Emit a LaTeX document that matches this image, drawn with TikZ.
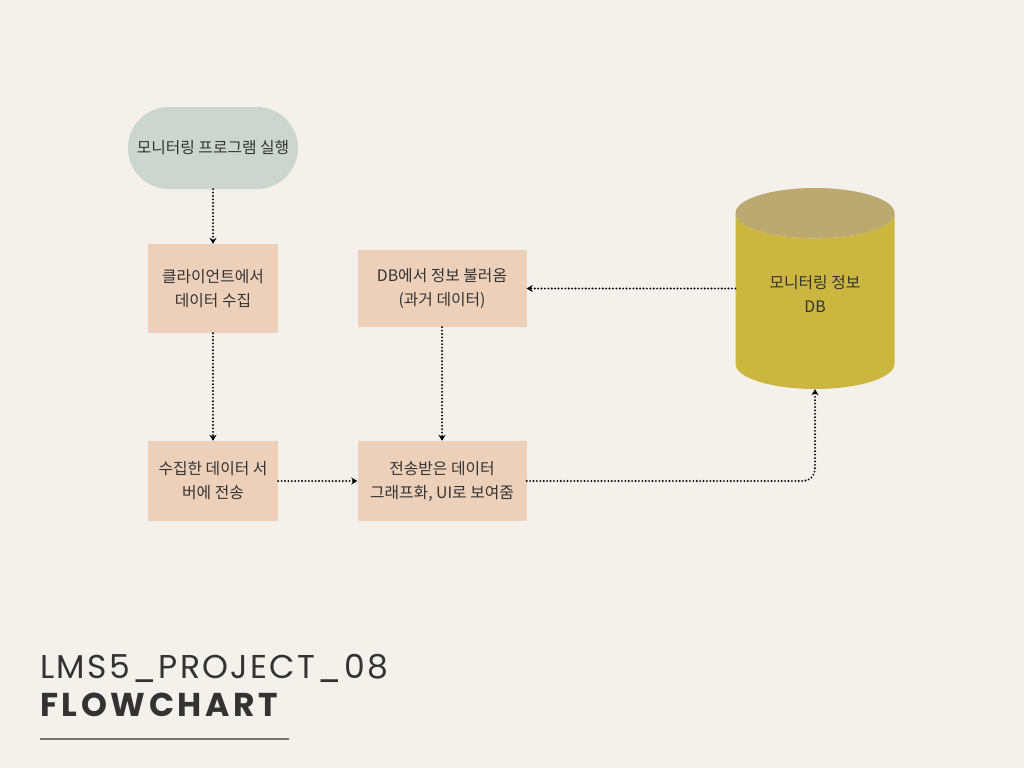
\documentclass[tikz,border=0pt]{standalone}
\usepackage{fontspec}
\usepackage{tikz}
\usetikzlibrary{shapes.geometric,arrows.meta}
\newfontfamily\kofont{Noto Sans CJK KR}
\newfontfamily\titlefont[LetterSpace=7]{Poppins}
\newfontfamily\titleboldfont[LetterSpace=11]{Poppins}
\definecolor{paper}{RGB}{244,240,235}
\definecolor{ink}{RGB}{51,51,51}
\definecolor{startfill}{RGB}{205,214,206}
\definecolor{boxfill}{RGB}{237,208,186}
\definecolor{dbbody}{RGB}{203,182,64}
\definecolor{dbtop}{RGB}{187,170,112}
\definecolor{rule}{RGB}{120,117,112}
\tikzstyle{label}=[align=center,text=ink,font=\kofont\fontsize{15.8}{24}\selectfont]
\tikzstyle{process}=[label,rectangle,fill=boxfill]
\tikzstyle{terminal}=[process,fill=startfill,rounded corners=41pt,minimum width=170pt,minimum height=82pt]
\tikzstyle{database}=[cylinder,shape border rotate=90,aspect=0.5,text width=94pt,cylinder uses custom fill,cylinder body fill=dbbody,cylinder end fill=dbtop,minimum width=159pt,minimum height=201pt,anchor=shape center]
\tikzstyle{flow}=[line width=2.1pt,line cap=round,dash pattern=on 0pt off 3.4pt,-{Stealth[length=6pt,width=7pt,line cap=butt]}]

\begin{document}
\begin{tikzpicture}[x=1pt,y=-1pt]
  \fill[paper] (0,0) rectangle (1024,768);
  \useasboundingbox (0,0) rectangle (1024,768);
  \node[terminal] (start) at (213,148) {모니터링 프로그램 실행};
  \node[process,minimum width=130pt,minimum height=89pt] (collect) at (213,288.5) {클라이언트에서\\데이터 수집};
  \node[process,minimum width=130pt,minimum height=80pt] (send) at (213,481) {수집한 데이터 서\\버에 전송};
  \node[process,minimum width=169pt,minimum height=80pt] (show) at (442,481) {전송받은 데이터\\그래프화, UI로 보여줌};
  \node[process,minimum width=169pt,minimum height=77pt] (load) at (442,288.5) {DB에서 정보 불러옴\\(과거 데이터)};
  \node[database] (db) at (815,288.5) {};
  \node[label,yshift=-5pt] (dbtext) at (db.shape center) {모니터링 정보\\DB};
  % arrows
  \draw[flow] (start) -- (collect);
  \draw[flow] (collect) -- (send);
  \draw[flow] (send) -- (show);
  \draw[flow,rounded corners=12pt] (show.east) -| (db.south);
  \draw[flow] (db.west |- load.east) -- (load.east);
  \draw[flow] (load) -- (show);
  % title
  \node[anchor=base west,inner sep=0pt,text=ink,font=\titlefont\fontsize{33}{33}\selectfont] (proj) at (40,678) {LMS5\_PROJECT\_08};
  \node[anchor=base west,inner sep=0pt,text=ink,font=\titleboldfont\bfseries\fontsize{33}{33}\selectfont] (kind) at (40,716) {FLOWCHART};
  \draw[rule,line width=1.5pt] (40,739) -- (289,739);
\end{tikzpicture}
\end{document}
